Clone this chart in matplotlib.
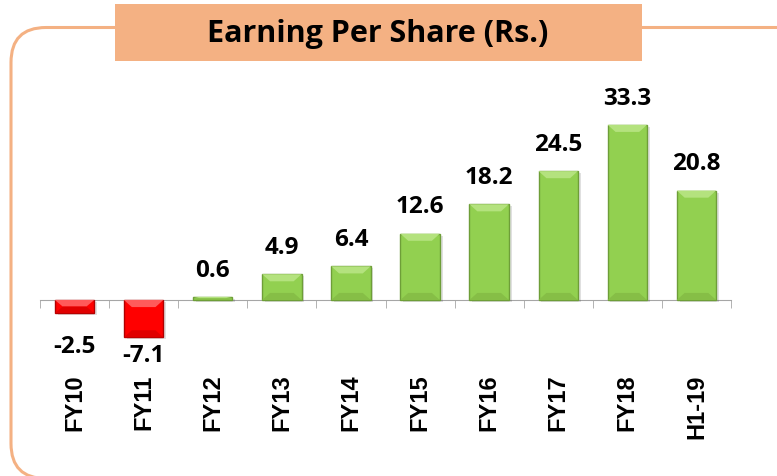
import matplotlib
matplotlib.use("Agg")
import matplotlib.pyplot as plt
from matplotlib.patches import FancyBboxPatch, Rectangle, Polygon
import numpy as np

categories = ["FY10", "FY11", "FY12", "FY13", "FY14", "FY15", "FY16", "FY17", "FY18", "H1-19"]
eps = [-2.5, -7.1, 0.6, 4.9, 6.4, 12.6, 18.2, 24.5, 33.3, 20.8]
title = "Earning Per Share (Rs.)"

W, H = 777, 477
fig = plt.figure(figsize=(W / 100, H / 100), dpi=100)

# outer rounded border
border = FancyBboxPatch((11 / W, -2.5 / H), 1.1, (H - 26) / H,
                        boxstyle="round,pad=0,rounding_size=0.045",
                        transform=fig.transFigure, facecolor="none",
                        edgecolor="#F4B183", linewidth=2.2, mutation_aspect=W / H)
fig.patches.append(border)

# title box
tb = Rectangle((115 / W, 1 - 62 / H), (642 - 115) / W, (62 - 5) / H,
               transform=fig.transFigure, facecolor="#F4B183", edgecolor="none")
fig.patches.append(tb)
fig.text(378 / W, 1 - 34 / H, title, ha="center", va="center",
         fontsize=22, fontweight="bold", family="Open Sans", color="black")

# axes: left 40px, right 731px; baseline at y=301px, 5.26 px/unit
ax_top, ax_bot = 100, 360
ax = fig.add_axes([40 / W, 1 - ax_bot / H, (731 - 40) / W, (ax_bot - ax_top) / H])
ppu = 5.26
ax.set_ylim(-(ax_bot - 301) / ppu, (301 - ax_top) / ppu)
ax.set_xlim(-0.5, len(categories) - 0.5)
ax.patch.set_alpha(0)

x = np.arange(len(categories))
colors = ["#FF0000" if v < 0 else "#92D050" for v in eps]
edges = ["#B00000" if v < 0 else "#6E9E38" for v in eps]
light = ["#FF5A5A" if v < 0 else "#B4E27E" for v in eps]
dark = ["#E00000" if v < 0 else "#86BE46" for v in eps]

bw = 0.57
# shadow
ax.bar(x + 0.04, eps, width=bw, color="#000000", alpha=0.12, zorder=1,
       bottom=[-0.4 for v in eps])
bars = ax.bar(x, eps, width=bw, color=colors, edgecolor=edges, linewidth=1, zorder=2)

# bevel decoration derived from bar geometry
for rect, lc, dc in zip(bars.patches, light, dark):
    x0, y0 = rect.get_x(), rect.get_y()
    w, h = rect.get_width(), rect.get_height()
    y1 = y0 + h
    top, bot = max(y0, y1), min(y0, y1)
    bevx = w * 0.2
    bevy = min(bevx * 69 / ppu * 0.9, abs(h) / 2)
    ax.add_patch(Polygon([[x0, top], [x0 + w, top], [x0 + w - bevx, top - bevy],
                          [x0 + bevx, top - bevy]], closed=True, facecolor=lc,
                         edgecolor="none", zorder=3))
    ax.add_patch(Polygon([[x0, bot], [x0 + w, bot], [x0 + w - bevx, bot + bevy],
                          [x0 + bevx, bot + bevy]], closed=True, facecolor=dc,
                         edgecolor="none", zorder=3))

# value labels
for xi, v in zip(x, eps):
    if v >= 0:
        ax.annotate(f"{v:.1f}", (xi, v), xytext=(0, 11), textcoords="offset points",
                    ha="center", va="bottom", fontsize=17.5, fontweight="bold",
                    family="Open Sans")
    else:
        ax.annotate(f"{v:.1f}", (xi, min(v, -5.5)), xytext=(0, -4), textcoords="offset points",
                    ha="center", va="top", fontsize=17.5, fontweight="bold",
                    family="Open Sans")

for s in ["top", "right", "left"]:
    ax.spines[s].set_visible(False)
ax.spines["bottom"].set_position(("data", 0))
ax.spines["bottom"].set_color("#A6A6A6")
ax.spines["bottom"].set_zorder(0)
ax.set_yticks([])
ax.set_xticks(x)
ax.set_xticklabels(categories, rotation=90, fontsize=17, fontweight="bold",
                   family="Liberation Sans", va="top")
ax.tick_params(axis="x", which="major", length=0, pad=53)
ax.set_xticks(np.arange(len(categories) + 1) - 0.5, minor=True)
ax.tick_params(axis="x", which="minor", length=6, color="#A6A6A6", direction="out")

fig.savefig("out.png", dpi=100)
